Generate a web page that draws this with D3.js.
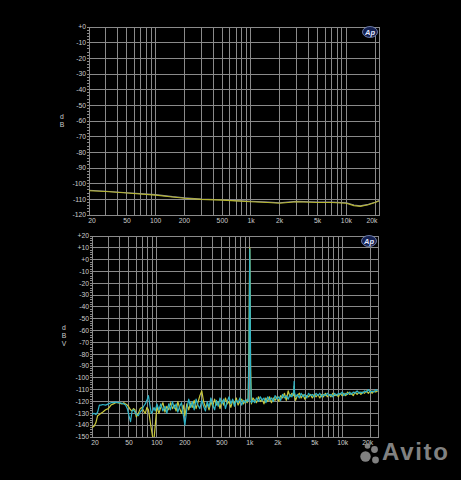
<!DOCTYPE html>
<html><head><meta charset="utf-8">
<script src="https://cdn.jsdelivr.net/npm/d3@7"></script>
<style>html,body{margin:0;padding:0;background:#000;}svg{display:block;}</style>
</head><body>
<script>
// ---------- DATA ----------
const xTickValues = [20,50,100,200,500,1000,2000,5000,10000,20000];
const xTickLabels = ["20","50","100","200","500","1k","2k","5k","10k","20k"];
const gridFreqs = [20,30,40,50,60,70,80,90,100,200,300,400,500,600,700,800,900,1000,2000,3000,4000,5000,6000,7000,8000,9000,10000,20000];

const topYTicks = [0,-10,-20,-30,-40,-50,-60,-70,-80,-90,-100,-110,-120];
const topFreqs = [20,30,50,100,150,200,300,500,700,1000,1500,2000,3000,5000,7000,10000,12000,14000,17000,20000,22000];
const topYellow = [-104.5,-105,-106,-107.3,-108.5,-109.3,-110,-110.5,-111,-111.5,-112,-112.5,-111.5,-112,-112,-112.5,-114,-114.5,-113.5,-112,-111];
const topGray   = [-104.2,-104.8,-105.8,-107,-108.3,-109,-109.8,-110.3,-110.8,-111.2,-111.8,-112.2,-111.3,-111.7,-111.8,-112.2,-113.6,-114.2,-113.2,-111.8,-110.8];

const botYTicks = [20,10,0,-10,-20,-30,-40,-50,-60,-70,-80,-90,-100,-110,-120,-130,-140,-150];
const botFreqs = [20,21,22,23,24,25,26,28,30,32,34,36,38,40,42,44,46,48,50,52,54,56,58,60,63,66,69,72,75,78,81,84,87,90,93,96,100,
 105,110,116,122,128,134,140,147,154,161,168,176,184,192,200,210,220,230,240,252,264,276,290,304,318,333,348,364,381,399,418,437,457,478,500,523,547,572,598,625,654,684,715,748,782,818,855,894,935,960,980,990,1000,1010,1020,1040,
 1080,1130,1180,1240,1300,1360,1420,1490,1560,1630,1710,1790,1870,1960,2050,2150,2250,2360,2470,2590,2710,2840,2970,3000,3030,3110,3260,3410,3570,3740,3920,4100,4300,4500,4710,4930,5170,5410,5670,5940,6220,6510,6820,7140,7480,7830,8200,8590,9000,9420,9870,10300,10800,11300,11900,12400,13000,13600,14300,15000,15700,16400,17200,18000,18900,19800,20700,21700,22700,23800];
const botCyan = [-131,-130,-131,-129,-123,-123,-122.5,-123,-122,-121,-121,-120.5,-121,-121,-121.5,-122,-123,-126,-132,-137,-128,-127,-129,-131,-132,-129,-127,-124,-122,-119,-115,-123,-130,-128,-125,-128,-122,
 -127,-122,-128,-124,-130,-122,-127,-120,-126,-122,-129,-124,-121,-131,-140,-126,-118,-125,-120,-127,-118,-123,-126,-119,-124,-128,-120,-125,-117,-123,-127,-119,-124,-117,-122,-118,-126,-120,-116,-122,-118,-124,-119,-121,-117,-123,-119,-121,-118,-120,-80,-30,9,-40,-100,-121,
 -119,-121,-117,-120,-116,-119,-117,-121,-116,-119,-117,-120,-115,-118,-116,-119,-114,-117,-115,-118,-114,-116,-112,-103,-112,-116,-114,-117,-113,-116,-114,-117,-113,-115,-114,-116,-113,-115,-113,-116,-114,-115,-113,-115,-114,-116,-113,-115,-113,-114,-112,-115,-113,-114,-112,-114,-112,-113,-111,-113,-112,-113,-111,-112,-110,-112,-111,-112,-110,-111];
const botYellow = [-142,-141,-138,-132,-131,-130,-129,-127,-126,-123,-122,-121,-121,-121.5,-122,-121,-122,-123,-125,-127,-128,-126,-127,-133,-130,-126,-125,-128,-130,-125,-127,-135,-143,-150,-152,-140,-124,
 -130,-125,-121,-129,-124,-127,-121,-126,-123,-128,-120,-126,-130,-123,-132,-122,-127,-121,-125,-119,-126,-121,-115,-111,-120,-125,-122,-127,-120,-124,-118,-123,-120,-126,-119,-123,-117,-122,-120,-125,-119,-122,-117,-123,-120,-118,-122,-119,-121,-119,-70,-20,10,-30,-90,-122,
 -117,-119,-121,-116,-120,-118,-122,-117,-120,-116,-121,-117,-119,-116,-120,-115,-117,-113,-119,-111,-116,-113,-115,-107,-115,-119,-115,-113,-117,-114,-118,-115,-116,-114,-117,-114,-116,-114,-117,-114,-116,-113,-116,-114,-116,-113,-115,-114,-116,-113,-115,-113,-115,-112,-114,-113,-115,-112,-114,-112,-114,-112,-113,-111,-113,-111,-113,-111,-112,-111];

// ---------- DRAW ----------
const W = 461, H = 480;
const svg = d3.select("body").append("svg").attr("width", W).attr("height", H)
  .style("background", "#000");
svg.append("rect").attr("width", W).attr("height", H).attr("fill", "#000");

const gridColor = "#8a8a8a";
const textColor = "#cccccc";
const FONT = "Liberation Sans, Arial, sans-serif";

function panel(cfg) {
  const x = d3.scaleLog().domain(cfg.xDomain).range([cfg.left, cfg.right]);
  const y = d3.scaleLinear().domain(cfg.yDomain).range([cfg.bottom, cfg.top]);
  const g = svg.append("g");
  g.selectAll(".vg").data(gridFreqs).enter().append("line")
    .attr("x1", d => x(d)).attr("x2", d => x(d))
    .attr("y1", cfg.top).attr("y2", cfg.bottom)
    .attr("stroke", gridColor).attr("stroke-width", 1).attr("shape-rendering", "crispEdges");
  g.selectAll(".hg").data(cfg.yTicks).enter().append("line")
    .attr("x1", cfg.left).attr("x2", cfg.right)
    .attr("y1", d => y(d)).attr("y2", d => y(d))
    .attr("stroke", gridColor).attr("stroke-width", 1).attr("shape-rendering", "crispEdges");
  g.append("rect").attr("x", cfg.left).attr("y", cfg.top)
    .attr("width", cfg.right - cfg.left).attr("height", cfg.bottom - cfg.top)
    .attr("fill", "none").attr("stroke", gridColor).attr("shape-rendering", "crispEdges");
  const minor = d3.range(cfg.yDomain[0], cfg.yDomain[1] + 0.001, 2);
  g.selectAll(".mt").data(minor).enter().append("line")
    .attr("x1", cfg.left - 2).attr("x2", cfg.left)
    .attr("y1", d => y(d)).attr("y2", d => y(d))
    .attr("stroke", gridColor).attr("shape-rendering", "crispEdges");
  g.selectAll(".yl").data(cfg.yTicks).enter().append("text")
    .attr("x", cfg.left - 3).attr("y", d => y(d) + 2.3)
    .attr("text-anchor", "end").attr("fill", textColor)
    .attr("font-family", FONT).attr("font-size", 6.8)
    .text(d => d > 0 ? "+" + d : (d === 0 ? "+0" : String(d)));
  g.selectAll(".xl").data(xTickValues).enter().append("text")
    .attr("x", (d, i) => x(d) + (i === 0 ? 3 : (i === xTickValues.length - 1 ? -3 : 0)))
    .attr("y", cfg.bottom + 8)
    .attr("text-anchor", "middle").attr("fill", textColor)
    .attr("font-family", FONT).attr("font-size", 6.8)
    .text((d, i) => xTickLabels[i]);
  cfg.unit.forEach((ch, i) => {
    g.append("text").attr("x", cfg.unitX).attr("y", cfg.unitY + i * 8)
      .attr("text-anchor", "middle").attr("fill", textColor)
      .attr("font-family", FONT).attr("font-size", 6.8).text(ch);
  });
  const lg = g.append("g").attr("transform", `translate(${cfg.right - 9},${cfg.top + 5})`);
  lg.append("ellipse").attr("rx", 7.5).attr("ry", 5.5).attr("fill", "#142050")
    .attr("stroke", "#8090c0").attr("stroke-width", 0.8);
  lg.append("text").attr("x", 0).attr("y", 2.6).attr("text-anchor", "middle")
    .attr("fill", "#e0e8ff").attr("font-family", FONT).attr("font-size", 7.5)
    .attr("font-weight", "bold").attr("font-style", "italic").text("Ap");
  const cid = "clip" + cfg.id;
  svg.append("clipPath").attr("id", cid).append("rect")
    .attr("x", cfg.left).attr("y", cfg.top).attr("width", cfg.right - cfg.left).attr("height", cfg.bottom - cfg.top);
  const line = d3.line().x(d => x(d[0])).y(d => y(d[1]));
  cfg.series.forEach(s => {
    svg.append("path").datum(s.f.map((f, i) => [f, s.v[i]]))
      .attr("d", line).attr("fill", "none").attr("stroke", s.color)
      .attr("stroke-width", s.w || 1).attr("stroke-linejoin", "round")
      .attr("clip-path", `url(#${cid})`);
  });
}

panel({
  id: "top", left: 89, right: 379, top: 27, bottom: 215,
  xDomain: [20, 22000], yDomain: [-120, 0], yTicks: topYTicks,
  unit: ["d", "B"], unitX: 62, unitY: 119,
  series: [
    { f: topFreqs, v: topGray, color: "#8c8ca0", w: 1.1 },
    { f: topFreqs, v: topYellow, color: "#b8b830", w: 1.1 }
  ]
});

panel({
  id: "bot", left: 92, right: 378, top: 236, bottom: 437,
  xDomain: [20, 24000], yDomain: [-150, 20], yTicks: botYTicks,
  unit: ["d", "B", "V"], unitX: 64, unitY: 330,
  series: [
    { f: botFreqs, v: botYellow, color: "#c8c83c", w: 1.2 },
    { f: botFreqs, v: botCyan, color: "#2eb4c8", w: 1.2 }
  ]
});

const wm = svg.append("g").attr("opacity", 0.9);
[[365.5,456.5,5.2],[367.5,446,2.8],[374.5,449.5,3.4],[375.5,460,3.4]].forEach(c => {
  wm.append("circle").attr("cx", c[0]).attr("cy", c[1]).attr("r", c[2]).attr("fill", "#909090");
});
wm.append("text").attr("x", 382).attr("y", 460).attr("fill", "#909090")
  .attr("font-family", FONT).attr("font-size", 24).attr("font-weight", "bold")
  .attr("textLength", 66).text("Avito");
</script>
</body></html>
